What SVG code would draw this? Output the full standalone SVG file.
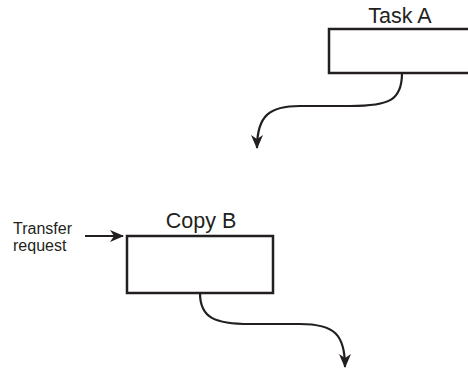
<svg xmlns="http://www.w3.org/2000/svg" width="468" height="369" viewBox="0 0 468 369">
<style>
.box{fill:#fff;stroke:#231f20;stroke-width:2.5}
.lbl{font-family:"Liberation Sans",Arial,sans-serif;fill:#231f20}
.con{fill:none;stroke:#231f20;stroke-width:2.2}
</style>
<defs>
<marker id="ah" markerWidth="14" markerHeight="12" refX="13" refY="6" orient="auto" markerUnits="userSpaceOnUse">
<path d="M0,0 L14,6 L0,12 L4,6 Z" fill="#231f20"/>
</marker>
</defs>
<rect width="468" height="369" fill="#fff"/>
<g id="taskA">
<rect class="box" x="329" y="29" width="141" height="44"/>
<text class="lbl" x="400" y="23" font-size="21.5" text-anchor="middle">Task A</text>
</g>
<g id="copyB">
<rect class="box" x="127" y="236" width="146" height="57"/>
<text class="lbl" x="201" y="228" font-size="21.5" text-anchor="middle">Copy B</text>
</g>
<g id="transfer">
<text class="lbl" x="13" y="234" font-size="16">Transfer</text>
<text class="lbl" x="13" y="251" font-size="16">request</text>
</g>
<g id="connectors">
<path class="con" d="M402,73 C402,100 390,106 350,106 L300,106 C270,106 257,115 257,148" marker-end="url(#ah)"/>
<path class="con" d="M200,293 C200,318 215,324 250,324 L300,324 C335,324 345,335 345,367" marker-end="url(#ah)"/>
<path class="con" d="M85,236 L123,236" marker-end="url(#ah)"/>
</g>
</svg>
